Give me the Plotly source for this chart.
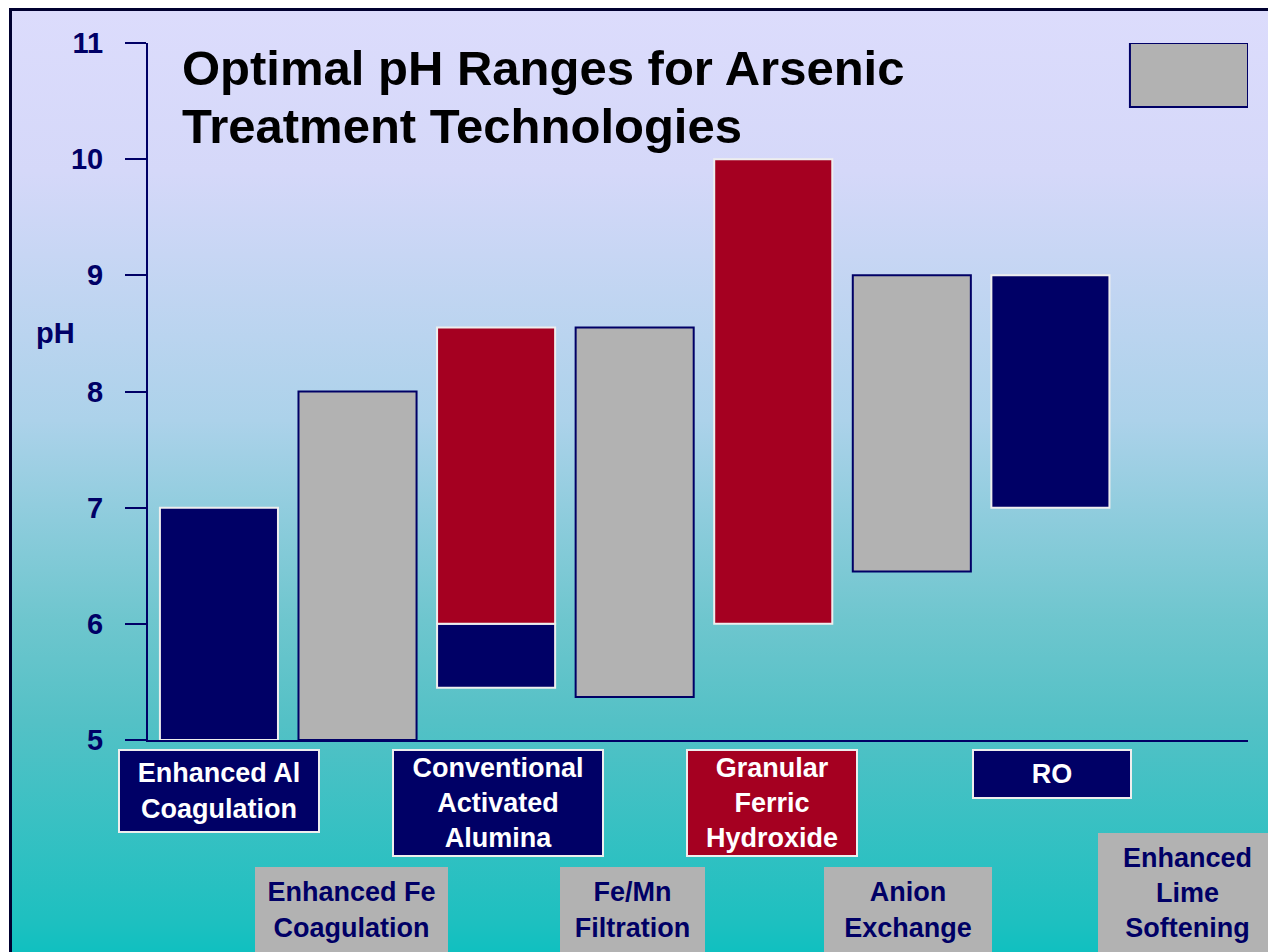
import plotly.graph_objects as go

W, H = 1276, 952
OFF = 8  # page body margin: figure starts 8px right/down in the browser window

# ---------------- data ----------------
categories = ["Enhanced Al Coagulation", "Enhanced Fe Coagulation", "Conventional Activated Alumina",
              "Fe/Mn Filtration", "Granular Ferric Hydroxide", "Anion Exchange", "RO",
              "Enhanced Lime Softening"]

navy_cats = ["Enhanced Al Coagulation", "Conventional Activated Alumina", "RO"]
navy_low = [5.0, 5.45, 7.0]
navy_high = [7.0, 6.0, 9.0]

red_cats = ["Conventional Activated Alumina", "Granular Ferric Hydroxide"]
red_low = [6.0, 6.0]
red_high = [8.55, 10.0]

gray_cats = ["Enhanced Fe Coagulation", "Fe/Mn Filtration", "Anion Exchange", "Enhanced Lime Softening"]
gray_low = [5.0, 5.37, 6.45, 10.45]
gray_high = [8.0, 8.55, 9.0, 11.0]

y_ticks = [5, 6, 7, 8, 9, 10, 11]

label_texts = ["Enhanced Al<br>Coagulation", "Enhanced Fe<br>Coagulation", "Conventional<br>Activated<br>Alumina",
               "Fe/Mn<br>Filtration", "Granular<br>Ferric<br>Hydroxide", "Anion<br>Exchange", "RO",
               "Enhanced<br>Lime<br>Softening"]

NAVY = "#000066"
RED = "#A50021"
GRAY = "#B2B2B2"
WHITE_EDGE = "#EEEEEE"
FONT = "Arial, Liberation Sans, sans-serif"

# label boxes in window pixels: x0, y0, x1, y1, background, text colour, border
label_boxes = [
    (118, 749, 320, 833, NAVY, "white", WHITE_EDGE),
    (255, 867, 448, 953, GRAY, NAVY, None),
    (392, 749, 604, 857, NAVY, "white", WHITE_EDGE),
    (560, 867, 705, 953, GRAY, NAVY, None),
    (686, 749, 858, 857, RED, "white", WHITE_EDGE),
    (824, 867, 992, 953, GRAY, NAVY, None),
    (972, 749, 1132, 799, NAVY, "white", WHITE_EDGE),
    (1098, 833, 1277, 953, GRAY, NAVY, None),
]


def px(x):
    return (x - OFF) / W


def py(y):
    return 1 - (y - OFF) / H


fig = go.Figure()

# background gradient on a helper subplot in figure-pixel coordinates
top_fig = 9.5 - OFF
fig.add_trace(go.Scatter(
    x=[10.5 - OFF, W + 20, W + 20, 10.5 - OFF, 10.5 - OFF],
    y=[H - top_fig, H - top_fig, -20, -20, H - top_fig],
    mode="lines", line=dict(width=0), fill="toself",
    fillgradient=dict(type="vertical", start=H - 952 + OFF, stop=H - top_fig,
                      colorscale=[[0.0, "#10C0C0"], [0.034, "#1EC0C0"], [0.246, "#54C1C6"],
                                  [0.352, "#6EC6CE"], [0.564, "#ACD2EA"], [0.828, "#D5D8F9"],
                                  [1.0, "#DCDCFC"]]),
    hoverinfo="skip", showlegend=False, xaxis="x", yaxis="y"))


def add_bars(cats, low, high, color, edge):
    fig.add_trace(go.Bar(
        x=cats, y=[h - l for l, h in zip(low, high)], base=low,
        marker=dict(color=color, line=dict(color=edge, width=2)),
        width=0.852, showlegend=False, xaxis="x2", yaxis="y2", hoverinfo="skip"))


add_bars(gray_cats, gray_low, gray_high, GRAY, NAVY)
add_bars(navy_cats, navy_low, navy_high, NAVY, WHITE_EDGE)
add_bars(red_cats, red_low, red_high, RED, WHITE_EDGE)

annotations = []
annotations.append(dict(text="<b>Optimal pH Ranges for Arsenic</b>", x=px(180), y=py(68),
                        xref="paper", yref="paper", xanchor="left", yanchor="middle", showarrow=False,
                        font=dict(family=FONT, size=49, color="black")))
annotations.append(dict(text="<b>Treatment Technologies</b>", x=px(180), y=py(126),
                        xref="paper", yref="paper", xanchor="left", yanchor="middle", showarrow=False,
                        font=dict(family=FONT, size=49, color="black")))
annotations.append(dict(text="<b>pH</b>", x=px(55), y=py(333), xref="paper", yref="paper",
                        xanchor="center", yanchor="middle", showarrow=False,
                        font=dict(family=FONT, size=29, color=NAVY)))

for txt, (x0, y0, x1, y1, bg, fg, edge) in zip(label_texts, label_boxes):
    bw = 2 if edge else 0
    annotations.append(dict(
        text="<b>" + txt + "</b>", x=px(x0), y=py(y0), xref="paper", yref="paper",
        xanchor="left", yanchor="top", showarrow=False, align="center", valign="middle",
        width=(x1 - x0) - 2 * bw, height=(y1 - y0) - 2 * bw, borderpad=0,
        bgcolor=bg, bordercolor=edge if edge else bg, borderwidth=bw,
        font=dict(family=FONT, size=27, color=fg)))

shapes = [dict(type="rect", xref="paper", yref="paper", x0=px(10.5), y0=-0.05, x1=1.05, y1=py(9.5),
               line=dict(color="#000030", width=3), fillcolor="rgba(0,0,0,0)", layer="above")]

fig.update_layout(
    width=W, height=H, margin=dict(l=0, r=0, t=0, b=0, autoexpand=False),
    paper_bgcolor="white", plot_bgcolor="rgba(0,0,0,0)",
    barmode="overlay", showlegend=False,
    xaxis=dict(domain=[0, 1], range=[0, W], visible=False, fixedrange=True, automargin=False),
    yaxis=dict(domain=[0, 1], range=[0, H], visible=False, fixedrange=True, automargin=False),
    xaxis2=dict(domain=[px(148), px(1248)], anchor="y2", type="category",
                categoryorder="array", categoryarray=categories, automargin=False,
                range=[-0.512, 7.426], showticklabels=False, ticks="",
                showline=True, linecolor=NAVY, linewidth=2, showgrid=False, zeroline=False),
    yaxis2=dict(domain=[py(740), py(43)], anchor="x2", range=[5, 11], tickvals=y_ticks,
                ticks="outside", ticklen=21, tickwidth=2, tickcolor=NAVY, automargin=False,
                showline=True, linecolor=NAVY, linewidth=2, showgrid=False, zeroline=False,
                ticklabelstandoff=16,
                tickfont=dict(family=FONT, size=29, color=NAVY, weight="bold")),
    annotations=annotations, shapes=shapes,
)

fig.write_html("out.html")
